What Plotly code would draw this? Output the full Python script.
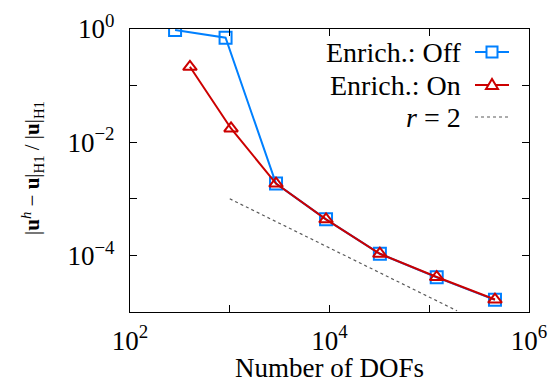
import plotly.graph_objects as go

# ---- data ----
dofs_off = [283, 908, 2910, 9230, 32000, 118800, 456000]
err_off = [0.96, 0.70, 1.86e-3, 4.34e-4, 1.07e-4, 4.1e-5, 1.64e-5]

dofs_on = [399, 1030, 2910, 9230, 32000, 118800, 456000]
err_on = [0.215, 0.0175, 1.86e-3, 4.34e-4, 1.07e-4, 4.15e-5, 1.66e-5]

ref_dofs = [1.0e3, 1.9e5]
ref_err = [1.0e-3, 1.05e-5]

x_tickvals = [1e2, 1e4, 1e6]
x_ticktext = ["10<sup>2</sup>", "10<sup>4</sup>", "10<sup>6</sup>"]
x_minorvals = [1e3, 1e5]
y_tickvals = [1e0, 1e-2, 1e-4]
y_ticktext = ["10<sup>0</sup>", "10<sup>−2</sup>", "10<sup>−4</sup>"]
y_minorvals = [1e-1, 1e-3, 1e-5]

legend_labels = ["Enrich.: Off", "Enrich.: On", "<i>r</i> = 2"]

BLUE = "rgb(0,128,255)"
RED = "rgb(204,0,0)"
GRAY = "rgb(90,90,90)"
FONT = "Liberation Serif"

fig = go.Figure()
fig.add_trace(go.Scatter(
    x=ref_dofs, y=ref_err, mode="lines",
    line=dict(color=GRAY, width=1.2, dash="dot"), showlegend=False))
fig.add_trace(go.Scatter(
    x=dofs_off, y=err_off, mode="lines+markers",
    line=dict(color=BLUE, width=2),
    marker=dict(symbol="square-open", size=12, color=BLUE, line=dict(width=2, color=BLUE)),
    showlegend=False))
fig.add_trace(go.Scatter(
    x=dofs_on, y=err_on, mode="lines+markers",
    line=dict(color=RED, width=2),
    marker=dict(symbol="triangle-up-open", size=12, color=RED, line=dict(width=2, color=RED)),
    showlegend=False))

axis_common = dict(
    type="log", showgrid=False, zeroline=False, automargin=False,
    showline=True, linecolor="black", linewidth=1.2, mirror="allticks",
    ticks="inside", ticklen=7, tickwidth=1, tickcolor="black",
    tickfont=dict(family=FONT, size=27, color="black"),
)

fig.update_layout(
    width=554, height=383,
    margin=dict(l=130, r=25, t=29, b=71),
    paper_bgcolor="white", plot_bgcolor="white",
    font=dict(family=FONT, color="black"),
    xaxis=dict(**axis_common, range=[2, 6], tickvals=x_tickvals, ticktext=x_ticktext,
               minor=dict(tickmode="array", tickvals=x_minorvals, ticks="inside",
                          ticklen=7, tickwidth=1, tickcolor="black", showgrid=False),
               ticklabelstandoff=4,
               title=dict(text="Number of DOFs", font=dict(family=FONT, size=27), standoff=4)),
    yaxis=dict(**axis_common, range=[-5, 0], tickvals=y_tickvals, ticktext=y_ticktext,
               minor=dict(tickmode="array", tickvals=y_minorvals, ticks="inside",
                          ticklen=7, tickwidth=1, tickcolor="black", showgrid=False),
               ticklabelstandoff=9),
)

# y-axis title
fig.add_annotation(
    xref="paper", yref="paper", x=-0.245, y=0.51, xanchor="center", yanchor="middle",
    textangle=-90, showarrow=False,
    text="|<b>u</b><sup><i>h</i></sup> − <b>u</b>|<sub>H1</sub> / |<b>u</b>|<sub>H1</sub>",
    font=dict(family=FONT, size=21, color="black"))

# manual legend (text right, symbol at right like pgfplots)
px0, px1 = 130, 529
py0, py1 = 29, 312
def fx(p):
    return (p - px0) / (px1 - px0)
def fy(p):
    return 1 - (p - py0) / (py1 - py0)

rows_y = [52, 85, 117]
text_right = 463
sym_x0, sym_x1 = 475, 509
for i, lab in enumerate(legend_labels):
    fig.add_annotation(xref="paper", yref="paper", x=fx(text_right), y=fy(rows_y[i]),
                       xanchor="right", yanchor="middle", showarrow=False, text=lab,
                       font=dict(family=FONT, size=28, color="black"))

# sample glyphs
styles = [(BLUE, "solid", 2), (RED, "solid", 2), (GRAY, "dot", 1.2)]
for i, (c, d, w) in enumerate(styles):
    fig.add_shape(type="line", xref="paper", yref="paper",
                  x0=fx(sym_x0), x1=fx(sym_x1), y0=fy(rows_y[i]), y1=fy(rows_y[i]),
                  line=dict(color=c, width=w, dash=d))
mx = (sym_x0 + sym_x1) / 2
hs = 5.5
fig.add_shape(type="rect", xref="paper", yref="paper",
              x0=fx(mx - hs), x1=fx(mx + hs),
              y0=fy(rows_y[0] - hs), y1=fy(rows_y[0] + hs),
              line=dict(color=BLUE, width=2), fillcolor="white")
ty = rows_y[1]
fig.add_shape(type="path", xref="paper", yref="paper",
              path=f"M {fx(mx-6)} {fy(ty+4)} L {fx(mx+6)} {fy(ty+4)} L {fx(mx)} {fy(ty-6)} Z",
              line=dict(color=RED, width=2), fillcolor="white")

fig.write_html("out.html", config={"displayModeBar": False},
               post_script="document.body.style.margin='0';")
